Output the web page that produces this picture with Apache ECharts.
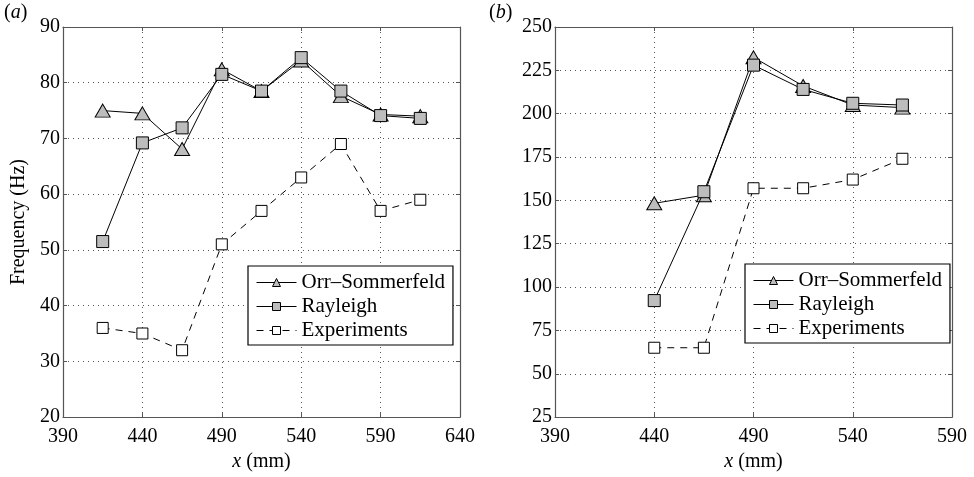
<!DOCTYPE html>
<html><head><meta charset="utf-8">
<script src="https://cdn.jsdelivr.net/npm/echarts@6/dist/echarts.min.js"></script>
<style>html,body{margin:0;padding:0;background:#fff}#c{width:974px;height:477px}</style>
</head><body><div id="c"></div>
<script>
const xA = [415, 440, 465, 490, 515, 540, 565, 590, 615];
const osA = [75, 74.5, 68.1, 82.4, 78.5, 84, 77.6, 74.3, 74];
const rayA = [51.5, 69.2, 71.9, 81.5, 78.5, 84.5, 78.5, 74.1, 73.6];
const expA = [36, 35, 32, 51, 57, 63, 69, 57, 59];

const xB = [440, 465, 490, 515, 540, 565];
const osB = [148.3, 153, 232.5, 216, 205, 203.5];
const rayB = [92.2, 155, 228, 214, 206, 205];
const expB = [65, 65, 157, 157, 162, 174];

const FONT = '"Times New Roman", Times, "Liberation Serif", "Nimbus Roman", "DejaVu Serif", "Noto Serif", serif';
const zip = (xs, ys) => xs.map((x, i) => [x, ys[i]]);

const chart = echarts.init(document.getElementById('c'));

function xAxes(gi, max) {
  return [
    { type: 'value', gridIndex: gi, min: 390, max: max, interval: 50, position: 'bottom',
      name: '{i|x} (mm)', nameLocation: 'middle', nameGap: 33,
      nameTextStyle: { fontFamily: FONT, fontSize: 20, color: '#000',
        rich: { i: { fontFamily: FONT, fontStyle: 'italic', fontSize: 20, color: '#000' } } },
      axisLine: { show: true, onZero: false, lineStyle: { color: '#555', width: 1.2 } },
      axisTick: { show: true, inside: true, length: 4, lineStyle: { color: '#555' } },
      axisLabel: { fontFamily: FONT, fontSize: 20, color: '#000', margin: 10 },
      splitLine: { show: true, lineStyle: { type: [1, 4], color: '#555', width: 1 } } },
    { type: 'value', gridIndex: gi, min: 390, max: max, interval: 50, position: 'top',
      axisLine: { show: true, onZero: false, lineStyle: { color: '#555', width: 1.2 } },
      axisTick: { show: true, inside: true, length: 4, lineStyle: { color: '#555' } },
      axisLabel: { show: false }, splitLine: { show: false } }
  ];
}
function yAxes(gi, min, max, itv, name) {
  return [
    { type: 'value', gridIndex: gi, min: min, max: max, interval: itv, position: 'left',
      name: name, nameLocation: 'middle', nameGap: 34,
      nameTextStyle: { fontFamily: FONT, fontSize: 20, color: '#000' },
      axisLine: { show: true, onZero: false, lineStyle: { color: '#555', width: 1.2 } },
      axisTick: { show: true, inside: true, length: 4, lineStyle: { color: '#555' } },
      axisLabel: { fontFamily: FONT, fontSize: 20, color: '#000', margin: 3 },
      splitLine: { show: true, lineStyle: { type: [1, 4], color: '#555', width: 1 } } },
    { type: 'value', gridIndex: gi, min: min, max: max, interval: itv, position: 'right',
      axisLine: { show: true, onZero: false, lineStyle: { color: '#555', width: 1.2 } },
      axisTick: { show: true, inside: true, length: 4, lineStyle: { color: '#555' } },
      axisLabel: { show: false }, splitLine: { show: false } }
  ];
}

function series(gi, xs, os, ray, ex) {
  const xi = gi * 2, yi = gi * 2;
  return [
    { name: 'Orr–Sommerfeld', type: 'line', xAxisIndex: xi, yAxisIndex: yi, data: zip(xs, os),
      symbol: 'triangle', symbolSize: [15, 13],
      itemStyle: { color: '#bdbdbd', borderColor: '#000', borderWidth: 1 },
      lineStyle: { color: '#000', width: 1 }, animation: false, z: 3 },
    { name: 'Rayleigh', type: 'line', xAxisIndex: xi, yAxisIndex: yi, data: zip(xs, ray),
      symbol: 'rect', symbolSize: 12,
      itemStyle: { color: '#bdbdbd', borderColor: '#000', borderWidth: 1 },
      lineStyle: { color: '#000', width: 1 }, animation: false, z: 4 },
    { name: 'Experiments', type: 'line', xAxisIndex: xi, yAxisIndex: yi, data: zip(xs, ex),
      symbol: 'rect', symbolSize: 11,
      itemStyle: { color: '#fff', borderColor: '#000', borderWidth: 1 },
      lineStyle: { color: '#000', width: 1, type: [7, 6] }, animation: false, z: 2 }
  ];
}

function legend(left, top) {
  return { orient: 'vertical', left: left, top: top, itemWidth: 40, itemHeight: 10, itemGap: 3,
    padding: [6, 8, 4, 8], backgroundColor: '#fff', borderColor: '#000', borderWidth: 1.2,
    borderRadius: 0, selectedMode: false,
    lineStyle: { width: 1 },
    itemStyle: { borderWidth: 1 },
    textStyle: { fontFamily: FONT, fontSize: 21, color: '#000' },
    data: ['Orr–Sommerfeld', 'Rayleigh', 'Experiments'] };
}

chart.setOption({
  animation: false,
  backgroundColor: '#fff',
  grid: [
    { left: 63, right: 514, top: 27, bottom: 54 },
    { left: 555, right: 22, top: 27, bottom: 54 }
  ],
  xAxis: [...xAxes(0, 640), ...xAxes(1, 590)],
  yAxis: [...yAxes(0, 20, 90, 10, 'Frequency (Hz)'), ...yAxes(1, 25, 250, 25, '')],
  legend: [legend(248, 266), legend(745, 264)],
  graphic: [
    { type: 'text', left: 4, top: 3, style: { text: '({i|a})', fontFamily: FONT, fontSize: 20, fill: '#000',
      rich: { i: { fontFamily: FONT, fontStyle: 'italic', fontSize: 20 } } } },
    { type: 'text', left: 489, top: 3, style: { text: '({i|b})', fontFamily: FONT, fontSize: 20, fill: '#000',
      rich: { i: { fontFamily: FONT, fontStyle: 'italic', fontSize: 20 } } } }
  ],
  series: [...series(0, xA, osA, rayA, expA), ...series(1, xB, osB, rayB, expB)]
});
</script></body></html>
